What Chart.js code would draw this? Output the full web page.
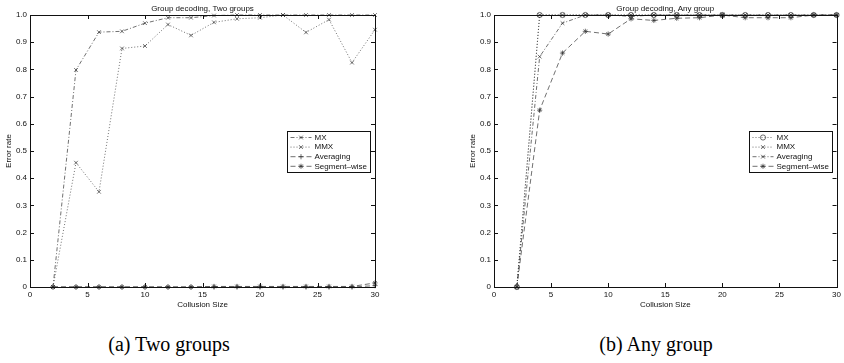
<!DOCTYPE html>
<html><head><meta charset="utf-8">
<script src="https://cdn.jsdelivr.net/npm/chart.js@4/dist/chart.umd.min.js"></script>
<style>
body{margin:0;background:#fff;width:844px;height:363px;overflow:hidden;position:relative}
.c{position:absolute;top:0}
.cap{position:absolute;font-family:"Liberation Serif","DejaVu Serif",serif;font-size:20px;color:#000;white-space:nowrap;transform:translateX(-50%)}
</style></head><body>
<div class="c" style="left:0"><canvas id="a" width="420" height="320"></canvas></div>
<div class="c" style="left:420px"><canvas id="b" width="424" height="320"></canvas></div>
<div class="cap" style="left:169px;top:333px">(a) Two groups</div>
<div class="cap" style="left:656px;top:333px">(b) Any group</div>
<script>
// ---- data ----
const collusionSizes = [2,4,6,8,10,12,14,16,18,20,22,24,26,28,30];
const xTicks = [0,5,10,15,20,25,30];
const seriesNames = ['MX','MMX','Averaging','Segment\u2013wise'];
const titleA = 'Group decoding, Two groups';
const titleB = 'Group decoding, Any group';

const twoMX   = [0,0.798,0.937,0.940,0.970,0.990,0.990,0.998,1,1,1,1,1,1,1];
const twoMMX  = [0,0.457,0.350,0.877,0.886,0.965,0.925,0.973,0.986,0.990,1.0,0.936,0.983,0.825,0.946];
const twoAvg  = [0,0,0,0,0,0,0,0,0,0,0,0,0,0,0.005];
const twoSeg  = [0,0,0,0,0,0,0,0.002,0.002,0.002,0.002,0.002,0.002,0.002,0.015];

const anyMX   = [0,1,1,1,1,1,1,1,1,1,1,1,1,1,1];
const anyMMX  = [0,1,1,1,1,1,1,1,1,1,1,1,1,1,1];
const anyAvg  = [0,0.847,0.970,1.0,1.0,0.995,1,1,1,1,1,1,1,1,1];
const anySeg  = [0,0.650,0.860,0.940,0.930,0.986,0.980,0.988,0.990,1.0,0.990,0.990,0.990,1.0,1.0];

// ---- styles ----
const FONT = {family:'"Liberation Sans", Arial, sans-serif', size:8, weight:'normal'};
const INK = '#111';
const LINE = '#333';
const DASHDOT = [4,2,1,2], DOT = [1,2], DASH = [5,3];

function pts(vals){ return collusionSizes.map((x,i)=>({x:x,y:vals[i]})); }
function ds(label, vals, dash, marker){
  return {label:label, data:pts(vals), borderColor:LINE, borderWidth:0.7, borderDash:dash,
    pointStyle:marker, pointRadius:2.6, pointBorderWidth:0.7, pointBorderColor:LINE,
    pointBackgroundColor:'rgba(0,0,0,0)', fill:false, tension:0, clip:5};
}

function mark(ctx, style, x, y, r){
  ctx.beginPath();
  const d = r*0.72;
  if(style==='circle'){ ctx.arc(x,y,r,0,Math.PI*2); }
  else if(style==='crossRot'){ ctx.moveTo(x-d,y-d);ctx.lineTo(x+d,y+d);ctx.moveTo(x+d,y-d);ctx.lineTo(x-d,y+d); }
  else if(style==='cross'){ ctx.moveTo(x-r,y);ctx.lineTo(x+r,y);ctx.moveTo(x,y-r);ctx.lineTo(x,y+r); }
  else if(style==='star'){ ctx.moveTo(x-r,y);ctx.lineTo(x+r,y);ctx.moveTo(x,y-r);ctx.lineTo(x,y+r);
    ctx.moveTo(x-d,y-d);ctx.lineTo(x+d,y+d);ctx.moveTo(x+d,y-d);ctx.lineTo(x-d,y+d); }
  ctx.stroke();
}

const frame = {
  id:'frame',
  afterDraw(chart){
    const ctx = chart.ctx, ca = chart.chartArea;
    const xs = chart.scales.x, ys = chart.scales.y;
    ctx.save();
    ctx.strokeStyle = INK; ctx.lineWidth = 1; ctx.setLineDash([]);
    ctx.strokeRect(Math.round(ca.left)+0.5, Math.round(ca.top)+0.5, Math.round(ca.right-ca.left), Math.round(ca.bottom-ca.top));
    const TL = 4;
    ctx.beginPath();
    xs.ticks.forEach(t=>{
      const p = Math.round(xs.getPixelForValue(t.value))+0.5;
      if(p<=ca.left+1||p>=ca.right-1) return;
      ctx.moveTo(p,ca.bottom); ctx.lineTo(p,ca.bottom-TL);
      ctx.moveTo(p,ca.top); ctx.lineTo(p,ca.top+TL);
    });
    ys.ticks.forEach(t=>{
      const p = Math.round(ys.getPixelForValue(t.value))+0.5;
      if(p<=ca.top+1||p>=ca.bottom-1) return;
      ctx.moveTo(ca.left,p); ctx.lineTo(ca.left+TL,p);
      ctx.moveTo(ca.right,p); ctx.lineTo(ca.right-TL,p);
    });
    ctx.stroke();
    // legend
    const w = 83, h = 41;
    const lx = Math.round(ca.right-5-w)+0.5, ly = Math.round(ca.top+116)+0.5;
    ctx.fillStyle = '#fff'; ctx.fillRect(lx,ly,w,h);
    ctx.strokeRect(lx,ly,w,h);
    ctx.font = '8px "Liberation Sans", Arial, sans-serif';
    ctx.textBaseline = 'middle'; ctx.textAlign = 'left';
    chart.data.datasets.forEach((d,i)=>{
      const y = ly + 6 + i*9.6;
      ctx.strokeStyle = LINE;
      ctx.lineWidth = 0.7; ctx.setLineDash(d.borderDash);
      ctx.beginPath(); ctx.moveTo(lx+3,y); ctx.lineTo(lx+24,y); ctx.stroke();
      ctx.setLineDash([]);
      mark(ctx, d.pointStyle, lx+13.5, y, 2.6);
      ctx.fillStyle = INK; ctx.fillText(d.label, lx+27, y);
    });
    ctx.restore();
  }
};

function makeChart(id, title, sets, padLeft, padRight){
  return new Chart(document.getElementById(id), {
    type:'line',
    data:{datasets:sets},
    plugins:[frame],
    options:{
      responsive:false, animation:false, devicePixelRatio:1,
      layout:{padding:{left:padLeft,right:padRight,top:0,bottom:0}},
      plugins:{
        legend:{display:false}, tooltip:{enabled:false},
        title:{display:true, text:title, font:FONT, color:INK, fullSize:false, padding:{top:4,bottom:1.4}}
      },
      scales:{
        x:{type:'linear', min:0, max:30,
          afterBuildTicks(s){ s.ticks = xTicks.map(v=>({value:v})); },
          ticks:{font:FONT, color:INK, padding:3, maxRotation:0, autoSkip:false},
          grid:{display:false, drawTicks:false}, border:{display:false},
          title:{display:true, text:'Collusion Size', font:FONT, color:INK, padding:{top:0,bottom:10}},
          afterFit(s){ s.height = 33; }},
        y:{type:'linear', min:0, max:1,
          ticks:{stepSize:0.1, font:FONT, color:INK, padding:3},
          grid:{display:false, drawTicks:false}, border:{display:false},
          title:{display:true, text:'Error rate', font:FONT, color:INK, padding:{top:4,bottom:0}},
          afterFit(s){ s.width = 30; }}
      }
    }
  });
}

makeChart('a', titleA, [
  ds(seriesNames[0], twoMX, DASHDOT, 'crossRot'),
  ds(seriesNames[1], twoMMX, DOT, 'crossRot'),
  ds(seriesNames[2], twoAvg, DASH, 'cross'),
  ds(seriesNames[3], twoSeg, DASH, 'star')
], 0, 45);

makeChart('b', titleB, [
  ds(seriesNames[0], anyMX, DOT, 'circle'),
  ds(seriesNames[1], anyMMX, DOT, 'crossRot'),
  ds(seriesNames[2], anyAvg, DASHDOT, 'crossRot'),
  ds(seriesNames[3], anySeg, DASH, 'star')
], 44, 5);
</script>
</body></html>
